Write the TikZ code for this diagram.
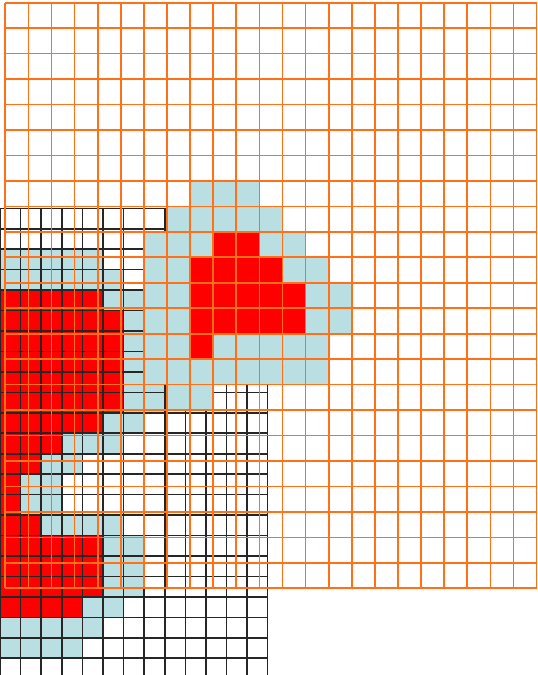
\documentclass[tikz,border=0pt]{standalone}
\definecolor{ogrid}{RGB}{255,112,24}
\definecolor{lb}{RGB}{185,223,227}
\definecolor{rd}{RGB}{255,0,0}
\tikzset{
  oline/.style={draw=ogrid,line width=1.7pt},
  bline/.style={draw=black!85,line width=1.6pt}
}
% orange grid: x0=5.3, w=23.1 ; y0=2.7, h=25.46
\newcommand\ocell[3]{\fill[#3] ({5.3+23.1*#1},{2.7+25.46*#2}) rectangle ++(23.1,25.46);}
\newcommand\orow[3]{\foreach \cc in {#2} {\ocell{\cc}{#1}{#3}}}
% black grid: x0=0, w=20.59 ; y0=208.3, h=20.45
\newcommand\bcell[3]{\fill[#3] ({20.59*#1},{208.3+20.45*#2}) rectangle ++(20.59,20.45);}
\newcommand\brow[3]{\foreach \cc in {#2} {\bcell{\cc}{#1}{#3}}}
\begin{document}
\begin{tikzpicture}[x=1pt,y=-1pt]
\useasboundingbox (0,0) rectangle (538,675);
\clip (0,0) rectangle (538,675);
\fill[white] (0,0) rectangle (538,675);
% ---- black grid cells
\brow{2}{0,...,4}{lb}
\brow{3}{0,...,5}{lb}
\brow{4}{0,...,4}{rd} \brow{4}{5,6}{lb}
\brow{5}{0,...,5}{rd} \brow{5}{6}{lb}
\brow{6}{0,...,5}{rd} \brow{6}{6}{lb}
\brow{7}{0,...,5}{rd} \brow{7}{6}{lb}
\brow{8}{0,...,5}{rd} \brow{8}{6,7}{lb}
\brow{9}{0,...,5}{rd} \brow{9}{6,7}{lb}
\brow{10}{0,...,4}{rd} \brow{10}{5,6}{lb}
\brow{11}{0,...,2}{rd} \brow{11}{3,4,5}{lb}
\brow{12}{0,1}{rd} \brow{12}{2,3}{lb}
\brow{13}{0}{rd} \brow{13}{1,2}{lb}
\brow{14}{0}{rd} \brow{14}{1,2}{lb}
\brow{15}{0,1}{rd} \brow{15}{2,...,5}{lb}
\brow{16}{0,...,4}{rd} \brow{16}{5,6}{lb}
\brow{17}{0,...,4}{rd} \brow{17}{5,6}{lb}
\brow{18}{0,...,4}{rd} \brow{18}{5,6}{lb}
\brow{19}{0,...,3}{rd} \brow{19}{4,5}{lb}
\brow{20}{0,...,4}{lb}
\brow{21}{0,...,3}{lb}
% ---- black grid lines
\foreach \c in {0,...,13} \draw[bline] ({20.59*\c},208.3) -- ({20.59*\c},690);
\foreach \r in {0,...,23} \draw[bline] (0,{208.3+20.45*\r}) -- (267.7,{208.3+20.45*\r});
% ---- orange grid cells
\orow{7}{8,9,10}{lb}
\orow{8}{7,...,11}{lb}
\orow{9}{6,7,8,11,12}{lb} \orow{9}{9,10}{rd}
\orow{10}{6,7,12,13}{lb} \orow{10}{8,...,11}{rd}
\orow{11}{6,7,13,14}{lb} \orow{11}{8,...,12}{rd}
\orow{12}{6,7,13,14}{lb} \orow{12}{8,...,12}{rd}
\orow{13}{6,7,9,10,11,12,13}{lb} \orow{13}{8}{rd}
\orow{14}{6,...,13}{lb}
\orow{15}{7,8}{lb}
% ---- orange grid lines
\foreach \k in {0,...,23} \draw[oline] ({5.3+23.1*\k},2.7) -- ({5.3+23.1*\k},588.3);
\foreach \k in {0,...,23} \draw[oline] (5.3,{2.7+25.46*\k}) -- (536.6,{2.7+25.46*\k});
\end{tikzpicture}
\end{document}
